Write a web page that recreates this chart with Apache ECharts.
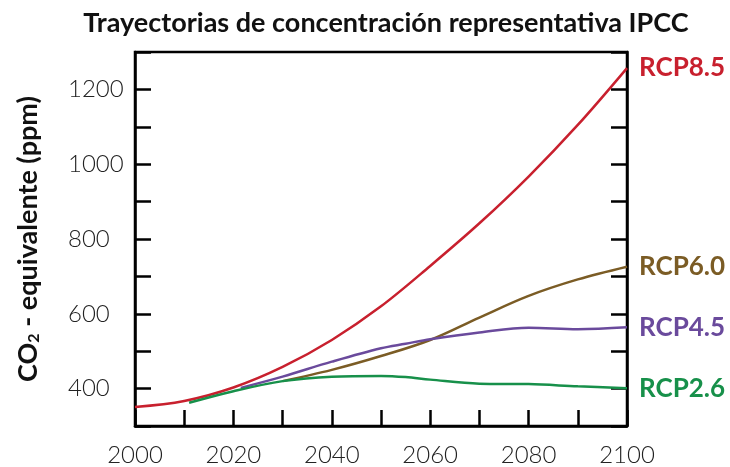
<!DOCTYPE html>
<html>
<head>
<meta charset="utf-8">
<script src="https://cdn.jsdelivr.net/npm/echarts@6/dist/echarts.min.js"></script>
<style>
  html, body { margin: 0; padding: 0; background: #fff; }
  #chart { width: 730px; height: 467px; }
</style>
</head>
<body>
<div id="chart"></div>
<script>
// CO2-equivalent concentration pathways (ppm)
const rcp85Years  = [2000, 2010, 2020, 2030, 2040, 2050, 2060, 2070, 2080, 2090, 2100];
const rcp85Values = [351, 367, 403, 458, 530, 620, 728, 842, 967, 1105, 1257];

const rcp60Years  = [2030, 2040, 2050, 2060, 2070, 2080, 2090, 2100];
const rcp60Values = [420, 450, 487, 530, 590, 648, 692, 726];

const rcp45Years  = [2021.5, 2030, 2040, 2050, 2055, 2060, 2070, 2080, 2090, 2100];
const rcp45Values = [402, 432, 472, 508, 520, 532, 550, 563, 559, 564];

const rcp26Years  = [2011, 2020, 2030, 2040, 2050, 2055, 2060, 2070, 2080, 2090, 2100];
const rcp26Values = [362, 393, 420, 432, 434, 431, 424, 413, 412, 406, 401];

const xTickLabels = [2000, 2020, 2040, 2060, 2080, 2100];
const yTickLabels = [400, 600, 800, 1000, 1200];

const pathways = [
  { name: 'RCP8.5', years: rcp85Years, values: rcp85Values, color: '#c8202e' },
  { name: 'RCP6.0', years: rcp60Years, values: rcp60Values, color: '#7b5c25' },
  { name: 'RCP4.5', years: rcp45Years, values: rcp45Values, color: '#6a4a9c' },
  { name: 'RCP2.6', years: rcp26Years, values: rcp26Values, color: '#17904a' }
];

const font = 'Lato';
const chart = echarts.init(document.getElementById('chart'));

const axisLine = { show: true, lineStyle: { color: '#000', width: 2.5 } };
const axisTick = { show: true, inside: true, length: 16, lineStyle: { color: '#000', width: 2.5 } };

chart.setOption({
  animation: false,
  title: {
    text: 'Trayectorias de concentración representativa IPCC',
    left: 381,
    top: 5,
    textAlign: 'center',
    textStyle: { fontFamily: font, fontWeight: 'bold', fontSize: 27, color: '#111' }
  },
  grid: {
    left: 135, right: 103, top: 52, bottom: 38,
    show: true, borderColor: '#000', borderWidth: 2.5, backgroundColor: 'transparent'
  },
  xAxis: {
    type: 'value',
    min: 2000, max: 2100, interval: 10,
    axisLine: axisLine,
    axisTick: axisTick,
    splitLine: { show: false },
    axisLabel: {
      margin: 17,
      fontFamily: font, fontWeight: 300, fontSize: 24, color: '#222',
      formatter: v => xTickLabels.includes(v) ? String(v) : ''
    }
  },
  yAxis: [{
    type: 'value',
    min: 300, max: 1300, interval: 100,
    name: 'CO{sub|2} - equivalente (ppm)',
    nameLocation: 'middle',
    nameGap: 93,
    nameTextStyle: {
      fontFamily: font, fontWeight: 'bold', fontSize: 27, color: '#111',
      rich: {
        sub: { fontFamily: font, fontWeight: 'bold', fontSize: 16, color: '#111', verticalAlign: 'bottom', padding: [12, 0, 0, 0] }
      }
    },
    axisLine: axisLine,
    axisTick: axisTick,
    splitLine: { show: false },
    axisLabel: {
      margin: 67,
      align: 'left',
      fontFamily: font, fontWeight: 300, fontSize: 24, color: '#222',
      formatter: v => yTickLabels.includes(v) ? String(v) : ''
    }
  }, {
    type: 'value',
    position: 'right',
    min: 300, max: 1300, interval: 100,
    axisLine: axisLine,
    axisTick: axisTick,
    splitLine: { show: false },
    axisLabel: { show: false }
  }],
  series: pathways.map(p => ({
    name: p.name,
    type: 'line',
    smooth: 0.35,
    symbol: 'none',
    data: p.years.map((y, i) => [y, p.values[i]]),
    lineStyle: { color: p.color, width: 2.5 },
    itemStyle: { color: p.color },
    endLabel: {
      show: true,
      formatter: '{a}',
      distance: 12,
      color: p.color,
      fontFamily: font,
      fontWeight: 'bold',
      fontSize: 26
    }
  }))
});
</script>
</body>
</html>
